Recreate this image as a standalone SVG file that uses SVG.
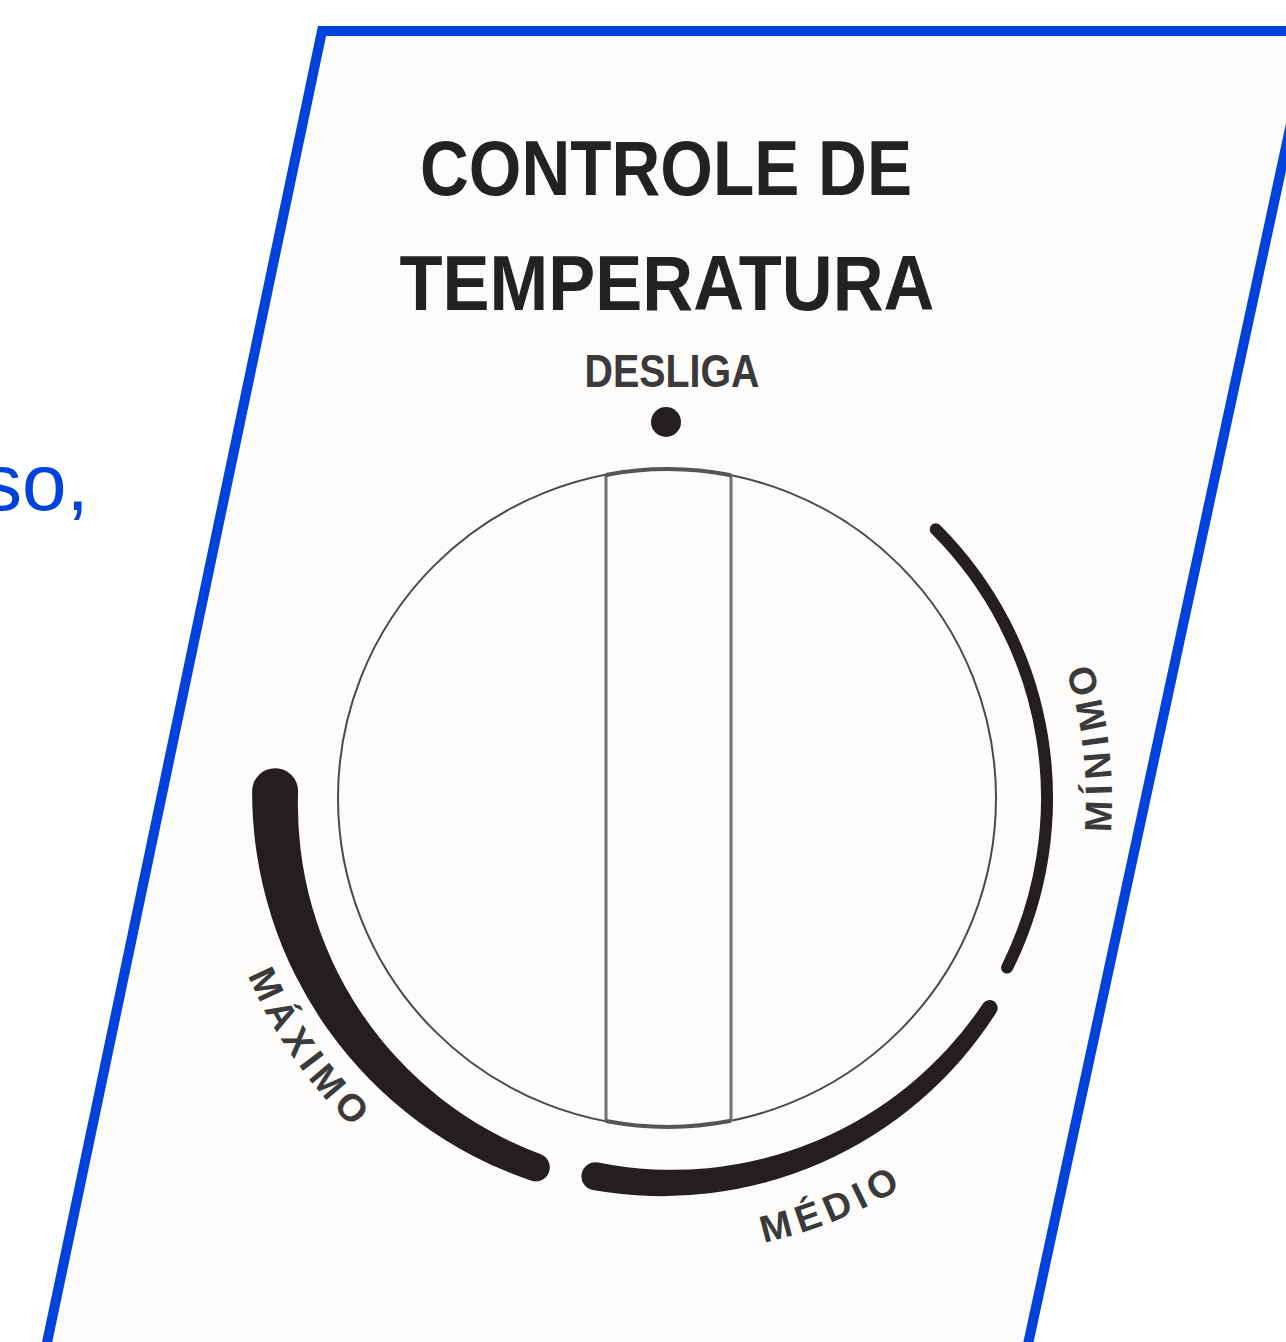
<svg xmlns="http://www.w3.org/2000/svg" width="1286" height="1342" viewBox="0 0 1286 1342">
  <style>
    .frame { fill: #fdfcfb; stroke: #0043dc; stroke-width: 10; stroke-linejoin: miter; }
    .side { font-family: "Liberation Sans", Arial, sans-serif; fill: #0043dc; font-size: 80px; }
    .title { font-family: "Liberation Sans", Arial, sans-serif; font-weight: bold; fill: #222; }
    .lbl { font-family: "Liberation Sans", Arial, sans-serif; font-weight: bold; fill: #3a3a3a; font-size: 38px; letter-spacing: 6px; }
    .band { fill: #231f1e; }
    .thin { fill: none; stroke: #4a4a4a; stroke-width: 2; }
    .bar { fill: none; stroke: #707070; stroke-width: 3; }
    .cap { fill: none; stroke: #555; stroke-width: 4; }
  </style>
  <defs>
    <path id="pMax" d="M 213.7 837.7 A 455 455 0 0 0 474.7 1210.4"/>
    <path id="pMed" d="M 588 1246.1 A 455 455 0 0 0 1035.1 1065.4"/>
    <path id="pMin" d="M 1070.3 986.1 A 445 445 0 0 0 1012.8 518"/>
  </defs>
  <rect width="1286" height="1342" fill="#ffffff"/>
  <text class="side" x="-18" y="510">so,</text>
  <g id="frame">
    <polygon class="frame" points="322,31 1311,31 1016,1400 35,1400"/>
  </g>
  <g id="title">
    <text class="title" x="666" y="195" font-size="78" text-anchor="middle" textLength="492" lengthAdjust="spacingAndGlyphs">CONTROLE DE</text>
    <text class="title" x="667" y="310" font-size="78" text-anchor="middle" textLength="535" lengthAdjust="spacingAndGlyphs">TEMPERATURA</text>
  </g>
  <g id="desliga">
    <text class="title" x="672" y="387" font-size="46" text-anchor="middle" style="fill:#3a3a3a" textLength="175" lengthAdjust="spacingAndGlyphs">DESLIGA</text>
    <circle cx="666" cy="422" r="15" fill="#231f1e"/>
  </g>
  <g id="dial">
    <circle class="thin" cx="667" cy="798" r="329"/>
    <line class="bar" x1="606" y1="475" x2="606" y2="1121"/>
    <line class="bar" x1="731" y1="475" x2="731" y2="1121"/>
    <path class="cap" d="M 606 475 A 329 329 0 0 1 731 475.3"/>
    <path class="cap" d="M 606 1121 A 329 329 0 0 0 731 1120.7"/>
  </g>
  <g id="maximo">
    <path class="band" d="M 252.1 790.8 A 410 410 0 0 0 531.5 1180.7 A 14 14 0 0 0 540.8 1154.3 A 373 373 0 0 1 298.1 791.6 A 23 23 0 0 0 252.1 790.8 Z"/>
    <text class="lbl" text-anchor="middle"><textPath href="#pMax" startOffset="50%">MÁXIMO</textPath></text>
  </g>
  <g id="medio">
    <path class="band" d="M 592.9 1190.1 A 396 396 0 0 0 996.6 1012 A 8 8 0 0 0 983.2 1003.3 A 374 374 0 0 1 598.1 1162.5 A 14 14 0 0 0 592.9 1190.1 Z"/>
    <text class="lbl" text-anchor="middle"><textPath href="#pMed" startOffset="50%">MÉDIO</textPath></text>
  </g>
  <g id="minimo">
    <path d="M 935.7 529.3 A 380 380 0 0 1 1007.1 967.6" fill="none" stroke="#231f1e" stroke-width="12" stroke-linecap="round"/>
    <text class="lbl" text-anchor="middle"><textPath href="#pMin" startOffset="50%">MÍNIMO</textPath></text>
  </g>
</svg>
